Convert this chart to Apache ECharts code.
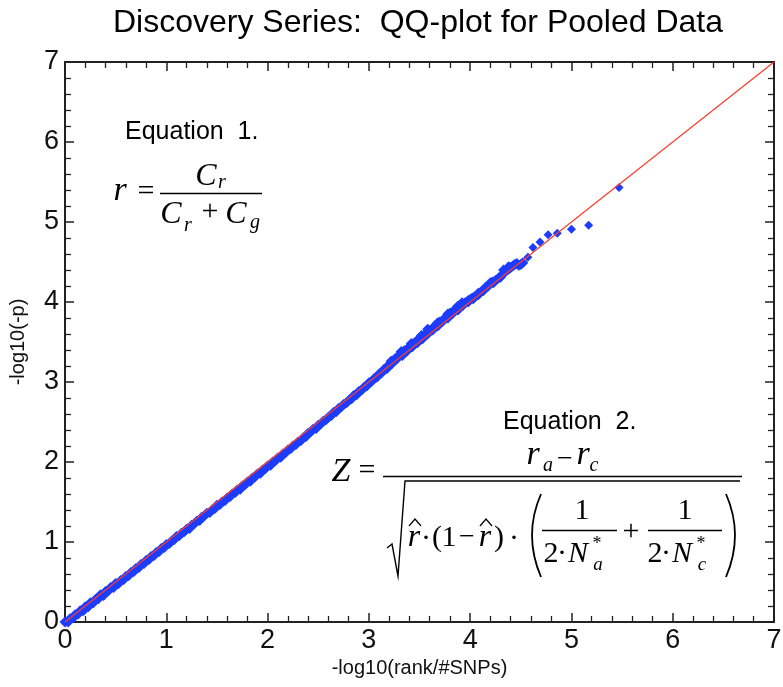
<!DOCTYPE html>
<html><head><meta charset="utf-8">
<script src="https://cdn.jsdelivr.net/npm/echarts@6/dist/echarts.min.js"></script>
<style>html,body{margin:0;padding:0;background:#fff}#c{width:783px;height:687px}</style>
</head><body><div id="c"></div>
<script>
// expected -log10(rank/#SNPs) vs observed -log10(p): main band (upper edge)
const qqX = [0.00,0.05,0.10,0.15,0.20,0.25,0.30,0.35,0.40,0.45,0.50,0.55,0.60,0.65,0.70,0.75,0.80,0.85,0.90,0.95,
  1.00,1.05,1.10,1.15,1.20,1.25,1.30,1.35,1.40,1.45,1.50,1.55,1.60,1.65,1.70,1.75,1.80,1.85,1.90,1.95,
  2.00,2.05,2.10,2.15,2.20,2.25,2.30,2.35,2.40,2.45,2.50,2.55,2.60,2.65,2.70,2.75,2.80,2.85,2.90,2.95,
  3.00,3.05,3.10,3.15,3.20,3.25,3.30,3.35,3.40,3.45,3.50,3.55,3.60,3.65,3.70,3.75,3.80,3.85,3.90,3.95,
  4.00,4.05,4.10,4.15,4.20,4.25,4.30,4.35,4.40,4.44,4.48,4.52,
  3.22,3.32,3.42,3.52,3.58,3.68,3.78,3.88,3.92,3.98,4.02,4.08,4.22,4.33,4.38,4.42,4.46,4.50];
const qqY = [0.00,0.04,0.09,0.14,0.19,0.24,0.28,0.34,0.38,0.43,0.48,0.52,0.57,0.62,0.67,0.72,0.77,0.82,0.87,0.92,
  0.97,1.01,1.07,1.11,1.16,1.21,1.26,1.31,1.36,1.40,1.46,1.50,1.55,1.60,1.65,1.70,1.75,1.80,1.85,1.90,
  1.95,2.00,2.05,2.10,2.15,2.20,2.25,2.30,2.36,2.41,2.46,2.51,2.56,2.62,2.67,2.72,2.77,2.83,2.88,2.93,
  2.99,3.04,3.10,3.16,3.22,3.28,3.34,3.39,3.44,3.49,3.55,3.59,3.64,3.70,3.75,3.80,3.86,3.91,3.96,3.99,
  4.03,4.07,4.12,4.18,4.24,4.27,4.31,4.38,4.43,4.47,4.46,4.49,
  3.26,3.38,3.48,3.58,3.66,3.74,3.85,3.95,3.99,4.02,4.05,4.11,4.25,4.40,4.44,4.45,4.48,4.47];
// main band (lower edge)
const lowX = [0.03,0.08,0.13,0.18,0.23,0.28,0.33,0.38,0.43,0.48,0.53,0.58,0.63,0.68,0.73,0.78,0.83,0.88,0.93,0.98,
  1.03,1.08,1.13,1.18,1.23,1.28,1.33,1.38,1.43,1.48,1.53,1.58,1.63,1.68,1.73,1.78,1.83,1.88,1.93,1.98,
  2.03,2.08,2.13,2.18,2.23,2.28,2.33,2.38,2.43,2.48,2.53,2.58,2.63,2.68,2.73,2.78,2.83,2.88,2.93,2.98,
  3.03,3.08,3.13,3.18,3.23,3.28,3.33,3.38,3.43,3.48,3.53,3.58,3.63,3.68,3.73,3.78,3.83,3.88,3.93,3.98,
  4.03,4.08,4.13,4.18,4.23,4.28,4.33,4.38];
const lowY = [0.00,0.05,0.10,0.14,0.19,0.24,0.29,0.33,0.39,0.43,0.48,0.53,0.58,0.63,0.68,0.73,0.78,0.83,0.88,0.93,
  0.98,1.03,1.08,1.13,1.17,1.23,1.27,1.33,1.37,1.42,1.47,1.52,1.57,1.62,1.66,1.72,1.76,1.82,1.86,1.92,
  1.96,2.02,2.06,2.12,2.17,2.22,2.27,2.32,2.38,2.42,2.48,2.53,2.58,2.63,2.69,2.74,2.79,2.84,2.90,2.95,
  3.01,3.06,3.12,3.17,3.23,3.29,3.33,3.39,3.44,3.49,3.54,3.60,3.65,3.70,3.76,3.80,3.86,3.90,3.96,4.00,
  4.04,4.09,4.14,4.20,4.24,4.30,4.36,4.41];
// sparse upper tail
const tailX = [4.57,4.62,4.69,4.77,4.86,5.00,5.17,5.47];
const tailY = [4.56,4.68,4.75,4.84,4.86,4.91,4.96,5.43];
// expected line y = x
const refX = [0, 7];
const refY = [0, 7];
const axisMin = 0, axisMax = 7, axisStep = 1;

const bandPts = qqX.map((x, i) => [x, qqY[i]]).concat(lowX.map((x, i) => [x, lowY[i]]));
const tailPts = tailX.map((x, i) => [x, tailY[i]]);
const refLine = refX.map((x, i) => [x, refY[i]]);

const SERIF = '"Liberation Serif","Times New Roman",serif';
const SANS = '"Liberation Sans",Arial,sans-serif';
function txt(s, x, y, size, italic, fam, align) {
  return {type:'text', silent:true, z:100, style:{text:s, x:x, y:y,
    font:(italic?'italic ':'') + size + 'px ' + (fam||SERIF), fill:'#000',
    textAlign:align||'center', textVerticalAlign:'middle', align:align||'center', verticalAlign:'middle'}};
}
function ln(x1,y1,x2,y2,w){ return {type:'line', silent:true, z:100, shape:{x1,y1,x2,y2}, style:{stroke:'#000', lineWidth:w||1.3}}; }
function poly(pts,w){ return {type:'polyline', silent:true, z:100, shape:{points:pts}, style:{stroke:'#000', fill:null, lineWidth:w||1.3}}; }
function curve(x1,y1,x2,y2,cx,cy){ return {type:'bezierCurve', silent:true, z:100, shape:{x1,y1,x2,y2,cpx1:cx,cpy1:cy}, style:{stroke:'#000', fill:null, lineWidth:1.8}}; }

const graphics = [
  // Equation 1
  txt('Equation  1.', 125, 132, 25, false, SANS, 'left'),
  txt('r', 120, 191, 34, true),
  txt('=', 146, 192, 30, false),
  ln(160, 193.5, 262, 193.5, 1.4),
  txt('C', 206, 177, 32, true),
  txt('r', 222, 183, 20, true),
  txt('C', 171, 215, 32, true),
  txt('r', 188, 226, 20, true),
  txt('+', 210, 212, 30, false),
  txt('C', 236, 215, 32, true),
  txt('g', 255, 223, 20, true),
  // Equation 2
  txt('Equation  2.', 503, 422, 25, false, SANS, 'left'),
  txt('Z', 341, 472, 34, true),
  txt('=', 367, 471, 30, false),
  ln(383, 476.5, 742, 476.5, 1.4),
  txt('r', 533, 455, 34, true),
  txt('a', 548, 466, 20, true),
  txt('\u2212', 565, 460, 28, false),
  txt('r', 583, 455, 34, true),
  txt('c', 594, 466, 20, true),
  poly([[387,548],[392,544],[398,576],[405,481],[740,481]], 1.4),
  txt('r', 414, 538, 32, true),
  poly([[409,526],[415,519],[421,526]], 1.2),
  txt('\u00b7', 426, 539, 30, false),
  txt('(', 437, 538, 30, false),
  txt('1', 449, 538, 30, false),
  txt('\u2212', 467, 538, 28, false),
  txt('r', 485, 538, 32, true),
  poly([[480,526],[486,519],[492,526]], 1.2),
  txt(')', 499, 538, 30, false),
  txt('\u00b7', 514, 539, 30, false),
  curve(541, 494, 541, 577, 523, 535),
  curve(726, 494, 726, 577, 744, 535),
  // fraction 1
  txt('1', 582, 511, 30, false),
  ln(542, 530.5, 617, 530.5, 1.3),
  txt('2', 551, 554, 30, false),
  txt('\u00b7', 562, 554, 30, false),
  txt('N', 578, 554, 30, true),
  txt('a', 598, 565, 19, true),
  txt('*', 597, 544, 18, false),
  txt('+', 631, 532, 30, false),
  // fraction 2
  txt('1', 685, 511, 30, false),
  ln(648, 530.5, 722, 530.5, 1.3),
  txt('2', 655, 554, 30, false),
  txt('\u00b7', 666, 554, 30, false),
  txt('N', 682, 554, 30, true),
  txt('c', 702, 565, 19, true),
  txt('*', 701, 544, 18, false)
];

const axisLineS = {show:true, onZero:false, lineStyle:{color:'#222', width:2}};
const tickS = {show:true, inside:true, length:9, lineStyle:{color:'#222', width:1.5}};
const minorS = {show:true, splitNumber:5, length:6, lineStyle:{color:'#222', width:1.3}};
const labelS = {color:'#111', fontSize:27, fontFamily:SANS};

const chart = echarts.init(document.getElementById('c'), null, {renderer:'canvas'});
chart.setOption({
  animation:false,
  backgroundColor:'#fff',
  title:{text:'Discovery Series:  QQ-plot for Pooled Data', left:413, top:2, textAlign:'center',
    textStyle:{fontSize:32, fontWeight:'normal', color:'#000', fontFamily:SANS}},
  grid:{left:65, right:9, top:62, bottom:65, outerBoundsMode:'none', containLabel:false},
  xAxis:[
    {type:'value', min:axisMin, max:axisMax, interval:axisStep, position:'bottom',
      name:'-log10(rank/#SNPs)', nameLocation:'middle', nameGap:36,
      nameTextStyle:{fontSize:20, color:'#111', fontFamily:SANS},
      axisLine:axisLineS, axisTick:tickS, minorTick:minorS, splitLine:{show:false}, minorSplitLine:{show:false},
      axisLabel:Object.assign({margin:5}, labelS)},
    {type:'value', min:axisMin, max:axisMax, interval:axisStep, position:'top',
      axisLine:axisLineS, axisTick:tickS, minorTick:minorS, splitLine:{show:false}, axisLabel:{show:false}}
  ],
  yAxis:[
    {type:'value', min:axisMin, max:axisMax, interval:axisStep, position:'left',
      name:'-log10(-p)', nameLocation:'middle', nameGap:37, nameRotate:90,
      nameTextStyle:{fontSize:20, color:'#111', fontFamily:SANS},
      axisLine:axisLineS, axisTick:tickS, minorTick:minorS, splitLine:{show:false}, minorSplitLine:{show:false},
      axisLabel:Object.assign({margin:6}, labelS)},
    {type:'value', min:axisMin, max:axisMax, interval:axisStep, position:'right',
      axisLine:axisLineS, axisTick:tickS, minorTick:minorS, splitLine:{show:false}, axisLabel:{show:false}}
  ],
  series:[
    {type:'scatter', data:bandPts, symbol:'diamond', symbolSize:11, xAxisIndex:0, yAxisIndex:0,
      itemStyle:{color:'#1c3cff', opacity:1}, z:2, silent:true},
    {type:'scatter', data:tailPts, symbol:'diamond', symbolSize:9, xAxisIndex:0, yAxisIndex:0,
      itemStyle:{color:'#1c3cff', opacity:1}, z:2, silent:true},
    {type:'line', data:refLine, symbol:'none', xAxisIndex:0, yAxisIndex:0,
      lineStyle:{color:'#ff3b2b', width:1.2}, z:3, silent:true}
  ],
  graphic:graphics
});
</script>
</body></html>
